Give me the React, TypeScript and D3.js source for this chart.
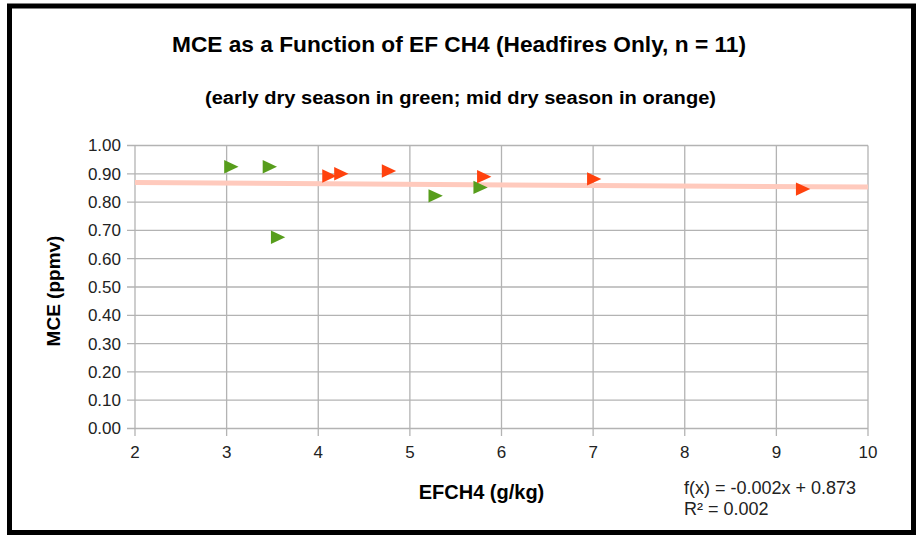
import * as d3 from "d3"

// early dry season (green)
const earlyX = [3.05, 3.47, 3.56, 5.28, 5.77]
const earlyY = [0.925, 0.925, 0.676, 0.822, 0.852]
// mid dry season (orange)
const midX = [4.12, 4.25, 4.77, 5.81, 7.01, 9.29]
const midY = [0.892, 0.9, 0.91, 0.89, 0.882, 0.846]

const xTicks = [2, 3, 4, 5, 6, 7, 8, 9, 10]
const yTicks = [0, 0.1, 0.2, 0.3, 0.4, 0.5, 0.6, 0.7, 0.8, 0.9, 1.0]

// linear trend from the chart
const slope = -0.002
const intercept = 0.873
const rSquared = 0.002

const W = 916
const H = 539
const font = "'Liberation Sans', Arial, sans-serif"

export default function App() {
  const x = d3.scaleLinear().domain([2, 10]).range([135, 868])
  const y = d3.scaleLinear().domain([0, 1]).range([428.5, 145.5])

  const trend = d3
    .line<number>()
    .x((d) => x(d))
    .y((d) => y(slope * d + intercept))

  const tri = "M-7,-6.7L7.3,0L-7,6.7Z"

  const early = earlyX.map((v, i) => [v, earlyY[i]])
  const mid = midX.map((v, i) => [v, midY[i]])

  return (
    <svg
      width={W}
      height={H}
      style={{ position: "absolute", left: 0, top: 0, background: "#fff" }}
      fontFamily={font}
    >
      <rect x={9.5} y={6} width={904} height={526.5} fill="#fff" stroke="#000" strokeWidth={5} />

      <text x={459} y={52} textAnchor="middle" fontSize={22} fontWeight="bold" fill="#000"
        textLength={574} lengthAdjust="spacingAndGlyphs">
        MCE as a Function of EF CH4 (Headfires Only, n = 11)
      </text>
      <text x={460.5} y={104} textAnchor="middle" fontSize={18} fontWeight="bold" fill="#000"
        textLength={511} lengthAdjust="spacingAndGlyphs">
        (early dry season in green; mid dry season in orange)
      </text>

      {/* grid */}
      {yTicks.map((t) => (
        <g key={"y" + t}>
          <line x1={127} x2={x(10)} y1={y(t)} y2={y(t)} stroke="#b3b3b3" strokeWidth={1.3} />
          <text x={121} y={y(t)} dy="0.35em" textAnchor="end" fontSize={17} fill="#222">
            {d3.format(".2f")(t)}
          </text>
        </g>
      ))}
      {xTicks.map((t) => (
        <g key={"x" + t}>
          <line x1={x(t)} x2={x(t)} y1={y(1)} y2={436} stroke="#b3b3b3" strokeWidth={1.3} />
          <text x={x(t)} y={458} textAnchor="middle" fontSize={17} fill="#222">
            {t}
          </text>
        </g>
      ))}

      <path
        d={trend([2, 10]) || ""}
        fill="none"
        stroke="#ffcabd"
        strokeWidth={5}
      />

      {early.map((d, i) => (
        <path key={"e" + i} d={tri} transform={`translate(${x(d[0])},${y(d[1])})`} fill="#579d1c" />
      ))}
      {mid.map((d, i) => (
        <path key={"m" + i} d={tri} transform={`translate(${x(d[0])},${y(d[1])})`} fill="#ff420e" />
      ))}

      <text
        transform={`translate(60,${(y(0) + y(1)) / 2 + 4}) rotate(-90)`}
        textAnchor="middle"
        fontSize={19}
        fontWeight="bold"
        fill="#000"
      >
        MCE (ppmv)
      </text>
      <text x={481.5} y={499} textAnchor="middle" fontSize={20} fontWeight="bold" fill="#000">
        EFCH4 (g/kg)
      </text>

      <text x={684} y={494} fontSize={18} fill="#222">
        {`f(x) = ${slope}x + ${intercept}`}
      </text>
      <text x={684} y={515} fontSize={18} fill="#222">
        {`R² = ${rSquared.toFixed(3)}`}
      </text>
    </svg>
  )
}
